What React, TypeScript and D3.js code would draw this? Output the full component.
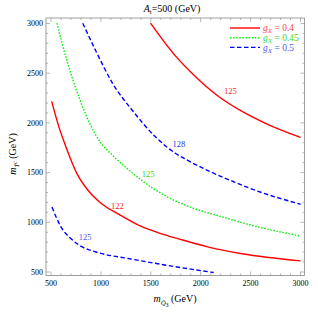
import React from 'react';
import * as d3 from 'd3';

// contour curves (m_Q3, m_Tc) in GeV
const red125: [number, number][] = [
  [1497, 3003], [1738, 2684], [1946, 2467], [2180, 2266], [2415, 2115], [2682, 1980], [3000, 1854],
];
const red122: [number, number][] = [
  [507, 2216], [573, 1980], [651, 1756], [760, 1490], [885, 1305], [992, 1200], [1193, 1073],
  [1394, 963], [1594, 889], [1795, 829], [2080, 751], [2415, 684], [3000, 612],
];
const green125: [number, number][] = [
  [560, 3003], [658, 2632], [791, 2230], [890, 1990], [992, 1810], [1126, 1665], [1260, 1543],
  [1427, 1408], [1662, 1258], [1929, 1141], [2230, 1050], [2498, 973], [3000, 862],
];
const blue128: [number, number][] = [
  [818, 3003], [952, 2718], [1119, 2395], [1320, 2120], [1544, 1862], [1745, 1695], [1862, 1627],
  [2096, 1509], [2330, 1408], [2498, 1340], [3000, 1182],
];
const blue125: [number, number][] = [
  [510, 1153], [601, 952], [701, 835], [785, 768], [952, 701], [1286, 634], [1750, 553], [2130, 495],
];

const contourLabels = [
  { text: '125', x: 2297, y: 2316, color: '#f22' },
  { text: '122', x: 1166, y: 1166, color: '#f22' },
  { text: '125', x: 1474, y: 1488, color: '#2d2' },
  { text: '128', x: 1782, y: 1789, color: '#33e' },
  { text: '125', x: 841, y: 849, color: '#55e' },
];

const legendItems = [
  { gx: '0.4', color: '#f00', dash: 'none', textColor: '#f44' },
  { gx: '0.45', color: '#0e0', dash: '1.5,1.6', textColor: '#3d3' },
  { gx: '0.5', color: '#00f', dash: '4.5,2.5', textColor: '#55e' },
];

const majorTicks = [500, 1000, 1500, 2000, 2500, 3000];
const minorTicks = d3.range(500, 3001, 100);

const W = 318;
const H = 313;
const left = 46, right = 304.5, top = 18, bottom = 275.5;
const serif = '"Liberation Serif", "DejaVu Serif", serif';

const App: React.FC = () => {
  const x = d3.scaleLinear().domain([450, 3040]).range([left, right]);
  const y = d3.scaleLinear().domain([465, 3055]).range([bottom, top]);
  const line = d3
    .line<[number, number]>()
    .x(d => x(d[0]))
    .y(d => y(d[1]))
    .curve(d3.curveMonotoneX);

  const frame = '#888';

  return (
    <svg width={W} height={H} style={{ position: 'absolute', left: 0, top: 0, background: '#fff' }}
      fontFamily={serif}>
      {/* title */}
      <text x={172} y={12} textAnchor="middle" fontSize={10}>
        <tspan fontStyle="italic">A</tspan>
        <tspan fontSize={7} dy={2}>t</tspan>
        <tspan dy={-2}>=500 (GeV)</tspan>
      </text>

      {/* curves */}
      <path d={line(red125)!} fill="none" stroke="#f00" strokeWidth={1.4} />
      <path d={line(red122)!} fill="none" stroke="#f00" strokeWidth={1.4} />
      <path d={line(green125)!} fill="none" stroke="#0e0" strokeWidth={1.4} strokeDasharray="1.5,1.6" />
      <path d={line(blue128)!} fill="none" stroke="#00f" strokeWidth={1.4} strokeDasharray="4.5,2.5" />
      <path d={line(blue125)!} fill="none" stroke="#00f" strokeWidth={1.4} strokeDasharray="4.5,2.5" />

      {contourLabels.map((l, i) => (
        <text key={i} x={x(l.x)} y={y(l.y)} dy="0.35em" textAnchor="middle" fontSize={8.5} fill={l.color}>
          {l.text}
        </text>
      ))}

      {/* frame */}
      <rect x={left} y={top} width={right - left} height={bottom - top} fill="none" stroke={frame} strokeWidth={0.8} />
      {minorTicks.map(t => {
        const major = t % 500 === 0;
        const len = major ? 4 : 2;
        return (
          <g key={t} stroke={frame} strokeWidth={0.6}>
            <line x1={x(t)} x2={x(t)} y1={bottom} y2={bottom - len} />
            <line x1={x(t)} x2={x(t)} y1={top} y2={top + len} />
            <line x1={left} x2={left + len} y1={y(t)} y2={y(t)} />
            <line x1={right} x2={right - len} y1={y(t)} y2={y(t)} />
          </g>
        );
      })}
      {majorTicks.map(t => (
        <text key={'x' + t} x={x(t)} y={286} textAnchor="middle" fontSize={8}>{t}</text>
      ))}
      {majorTicks.map(t => (
        <text key={'y' + t} x={43} y={y(t)} dy="0.35em" textAnchor="end" fontSize={8}>{t}</text>
      ))}

      {/* axis labels */}
      <text x={175} y={302} textAnchor="middle" fontSize={10}>
        <tspan fontStyle="italic">m</tspan>
        <tspan fontSize={7} dy={3} fontStyle="italic">Q̃</tspan>
        <tspan fontSize={5.5} dy={1.5}>3</tspan>
        <tspan dy={-4.5}>{'  (GeV)'}</tspan>
      </text>
      <text transform={`translate(16,154) rotate(-90)`} textAnchor="middle" fontSize={10}>
        <tspan fontStyle="italic">m</tspan>
        <tspan fontSize={7} dy={3} fontStyle="italic">T̃</tspan>
        <tspan fontSize={5.5} dy={-2} fontStyle="italic">c</tspan>
        <tspan dy={-1}>{'  (GeV)'}</tspan>
      </text>

      {/* legend */}
      {legendItems.map((it, i) => {
        const ly = 28 + i * 9.7;
        return (
          <g key={it.gx}>
            <line x1={230} x2={260} y1={ly} y2={ly} stroke={it.color} strokeWidth={1.4}
              strokeDasharray={it.dash === 'none' ? undefined : it.dash} />
            <text x={263} y={ly} dy="0.35em" fontSize={9.5} fill={it.textColor}>
              <tspan fontStyle="italic">g</tspan>
              <tspan fontSize={7} dy={2} fontStyle="italic">X</tspan>
              <tspan dy={-2}>{` = ${it.gx}`}</tspan>
            </text>
          </g>
        );
      })}
    </svg>
  );
};

export default App;
